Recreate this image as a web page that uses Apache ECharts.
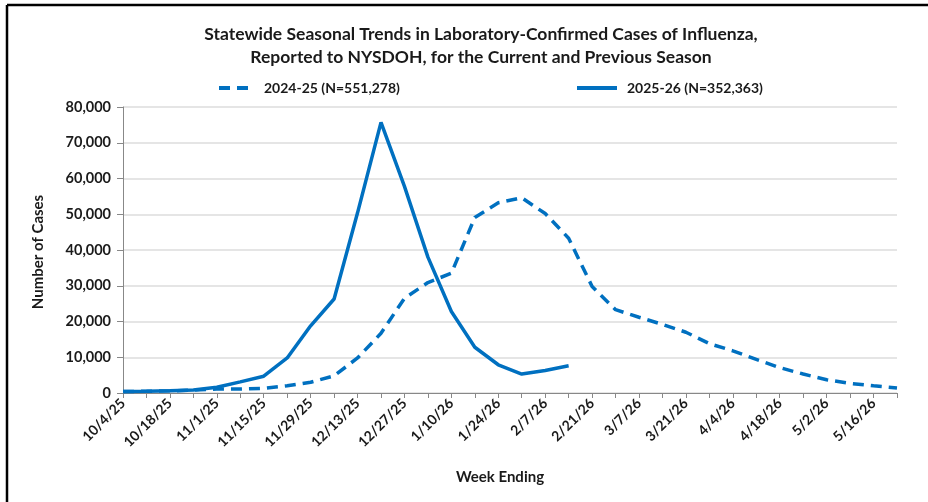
<!DOCTYPE html>
<html>
<head>
<meta charset="utf-8">
<script src="https://cdn.jsdelivr.net/npm/echarts@6/dist/echarts.min.js"></script>
<style>
html,body{margin:0;padding:0;background:#fff;}
#chart{width:928px;height:502px;}
</style>
</head>
<body>
<div id="chart"></div>
<script>
const weeks = ['10/4/25','10/11/25','10/18/25','10/25/25','11/1/25','11/8/25','11/15/25','11/22/25','11/29/25','12/6/25','12/13/25','12/20/25','12/27/25','1/3/26','1/10/26','1/17/26','1/24/26','1/31/26','2/7/26','2/14/26','2/21/26','2/28/26','3/7/26','3/14/26','3/21/26','3/28/26','4/4/26','4/11/26','4/18/26','4/25/26','5/2/26','5/9/26','5/16/26','5/23/26'];
const season2425 = [400,500,600,800,1100,1100,1300,2000,3000,4800,9800,16700,26500,30900,33500,49100,53200,54600,50200,43300,29800,23300,21200,19200,17000,13800,11800,9400,7100,5300,3700,2700,2000,1400];
const season2526 = [400,500,650,850,1600,3100,4700,9800,18800,26300,50400,75700,57800,38000,22800,12800,7900,5300,6300,7600];
const name2425 = '2024-25 (N=551,278)';
const name2526 = '2025-26 (N=352,363)';
const titleLines = ['Statewide Seasonal Trends in Laboratory-Confirmed Cases of Influenza,', 'Reported to NYSDOH, for the Current and Previous Season'];
const yTitle = 'Number of Cases';
const xTitle = 'Week Ending';

const FONT = 'Lato';
const BLUE = '#0070C0';
const TXT = '#1a1a1a';
const chart = echarts.init(document.getElementById('chart'));
chart.setOption({
  animation: false,
  backgroundColor: '#fff',
  textStyle: {fontFamily: FONT},
  title: {
    text: titleLines.join('\n'),
    left: 476, top: 18, textAlign: 'center',
    textStyle: {fontFamily: FONT, fontWeight: 'bold', fontSize: 17.5, lineHeight: 23, color: TXT}
  },
  legend: [
    {data: [name2425], left: 212, top: 76, itemWidth: 35, itemHeight: 14,
     itemStyle: {opacity: 0}, lineStyle: {width: 4},
     textStyle: {fontFamily: FONT, fontWeight: 'bold', fontSize: 14, color: TXT, padding: [0,0,0,5]}},
    {data: [name2526], left: 570, top: 76, itemWidth: 40, itemHeight: 14,
     itemStyle: {opacity: 0}, lineStyle: {width: 4},
     textStyle: {fontFamily: FONT, fontWeight: 'bold', fontSize: 14, color: TXT, padding: [0,0,0,5]}}
  ],
  grid: {left: 123, right: 31, top: 107, bottom: 109},
  xAxis: {
    type: 'category', data: weeks, boundaryGap: false,
    axisLine: {lineStyle: {color: '#888', width: 1}},
    axisTick: {show: true, interval: 0, length: 5, lineStyle: {color: '#888'}},
    axisLabel: {interval: 1, rotate: 45, fontFamily: FONT, fontWeight: 'bold', fontSize: 14, color: TXT, margin: 8},
    splitLine: {show: false}
  },
  yAxis: {
    type: 'value', min: 0, max: 80000, interval: 10000,
    axisLine: {show: true, lineStyle: {color: '#888', width: 1}},
    axisTick: {show: true, length: 6, lineStyle: {color: '#888'}},
    axisLabel: {fontFamily: FONT, fontWeight: 'bold', fontSize: 14.5, color: TXT, margin: 12,
      formatter: v => v.toLocaleString('en-US')},
    splitLine: {lineStyle: {color: '#dcdcdc', width: 1.5}}
  },
  graphic: [
    {type: 'text', x: 500, y: 477, style: {text: xTitle, fontFamily: FONT, fontWeight: 'bold', fontSize: 15, fill: TXT, align: 'center', verticalAlign: 'middle'}},
    {type: 'text', x: 38, y: 252, rotation: Math.PI / 2, style: {text: yTitle, fontFamily: FONT, fontWeight: 'bold', fontSize: 15, fill: TXT, align: 'center', verticalAlign: 'middle'}},
    {type: 'line', shape: {x1: 7, y1: 5, x2: 928, y2: 5}, style: {stroke: '#000', lineWidth: 2.5}},
    {type: 'line', shape: {x1: 7, y1: 5, x2: 7, y2: 502}, style: {stroke: '#000', lineWidth: 2.5}}
  ],
  series: [
    {name: name2425, type: 'line', data: season2425, symbol: 'none', smooth: false,
     lineStyle: {color: BLUE, width: 3.5, type: [11, 7]}, itemStyle: {color: BLUE}, z: 2},
    {name: name2526, type: 'line', data: season2526, symbol: 'none', smooth: false,
     lineStyle: {color: BLUE, width: 3.5}, itemStyle: {color: BLUE}, z: 3}
  ]
});
</script>
</body>
</html>
